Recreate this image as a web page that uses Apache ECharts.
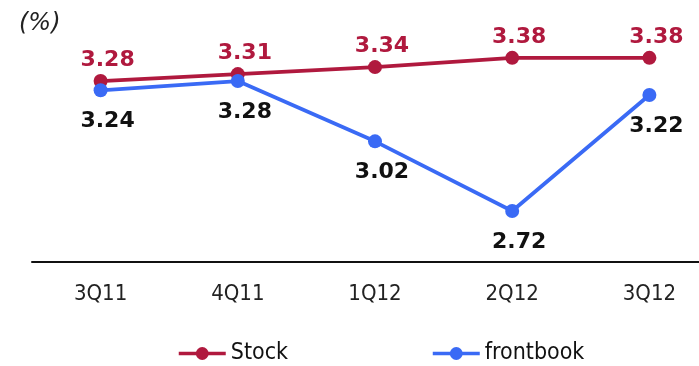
<!DOCTYPE html>
<html><head><meta charset="utf-8">
<script src="https://cdn.jsdelivr.net/npm/echarts@6/dist/echarts.min.js"></script>
<style>html,body{margin:0;padding:0;background:#fff}#c{width:699px;height:366px}</style>
</head><body><div id="c"></div>
<script>
const categories = ['3Q11', '4Q11', '1Q12', '2Q12', '3Q12'];
const stock = [3.28, 3.31, 3.34, 3.38, 3.38];
const frontbook = [3.24, 3.28, 3.02, 2.72, 3.22];
const RED = '#b0193e', BLUE = '#3a6af5';
const chart = echarts.init(document.getElementById('c'), null, {renderer: 'canvas'});
chart.setOption({
  animation: false,
  graphic: [{type: 'text', left: 19, top: 12, style: {text: '(%)', font: 'italic 24px "DejaVu Sans", sans-serif', fill: '#222'}}],
  grid: {left: 32, right: -19, top: 30, height: 232, containLabel: false, outerBoundsMode: 'none'},
  legend: {
    bottom: -4, left: 172, itemGap: 143, itemWidth: 47, itemHeight: 16,
    lineStyle: {width: 3.5},
    textStyle: {fontSize: 23, color: '#111', fontFamily: '"DejaVu Sans Condensed", "Liberation Sans", sans-serif'},
    data: ['Stock', 'frontbook']
  },
  xAxis: {
    type: 'category', data: categories, boundaryGap: true,
    axisLine: {lineStyle: {color: '#111', width: 2}},
    axisTick: {show: false},
    axisLabel: {fontSize: 22, color: '#222', margin: 21, fontFamily: '"DejaVu Sans Condensed", "Liberation Sans", sans-serif'}
  },
  yAxis: {type: 'value', min: 2.5, max: 3.5, show: false, splitLine: {show: false}},
  series: [
    {name: 'Stock', type: 'line', data: stock, symbol: 'circle', symbolSize: 14,
     lineStyle: {color: RED, width: 3.8}, itemStyle: {color: RED},
     label: {show: true, position: 'top', distance: 3, offset: [7, 0], color: RED, fontSize: 22, fontWeight: 'bold', fontFamily: '"DejaVu Sans", sans-serif', formatter: p => p.value.toFixed(2)}},
    {name: 'frontbook', type: 'line', data: frontbook, symbol: 'circle', symbolSize: 14,
     lineStyle: {color: BLUE, width: 3.8}, itemStyle: {color: BLUE},
     label: {show: true, position: 'bottom', distance: 13, offset: [7, 0], color: '#111', fontSize: 22, fontWeight: 'bold', fontFamily: '"DejaVu Sans", sans-serif', formatter: p => p.value.toFixed(2)}}
  ]
});
</script></body></html>
